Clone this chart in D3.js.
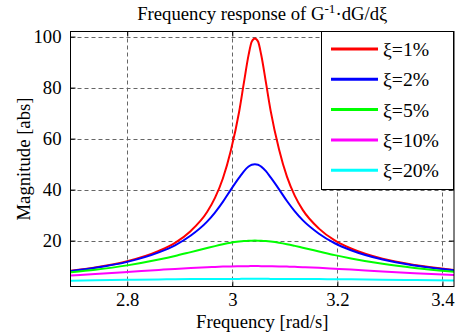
<!DOCTYPE html>
<html>
<head>
<meta charset="utf-8">
<script src="https://cdn.jsdelivr.net/npm/d3@7"></script>
<style>
  html, body { margin: 0; padding: 0; background: #fff; }
  svg { display: block; }
  text { font-family: "Liberation Serif", "Times New Roman", serif; fill: #000; }
</style>
</head>
<body>
<svg id="chart" width="455" height="332"></svg>
<script>
// Frequency samples (rad/s) around the natural frequency
const frequency = [2.693, 2.739, 2.800, 2.860, 2.891, 2.921, 2.952, 2.967, 2.982, 2.997,
  3.013, 3.022, 3.031, 3.037, 3.043, 3.049, 3.055, 3.064, 3.073, 3.089,
  3.104, 3.119, 3.134, 3.165, 3.195, 3.226, 3.286, 3.347, 3.423];

// |G^-1 dG/dxi| for each damping ratio
const xi1 = [8.14, 9.43, 11.89, 15.94, 19.13, 23.79, 31.19, 36.73, 44.36, 55.18,
  70.53, 81.83, 92.82, 98.05, 99.3, 98.06, 92.87, 82.02, 70.88, 55.76,
  45.07, 37.53, 32.04, 24.70, 20.07, 16.91, 12.87, 10.42, 8.44];
const xi2 = [8.06, 9.31, 11.65, 15.37, 18.16, 21.99, 27.44, 30.99, 35.18, 39.89,
  44.68, 47.17, 49.03, 49.75, 49.9, 49.75, 49.03, 47.21, 44.77, 40.11,
  35.53, 31.47, 28.02, 22.71, 18.96, 16.22, 12.56, 10.25, 8.35];
const xi5 = [7.56, 8.56, 10.28, 12.57, 13.96, 15.49, 17.08, 17.84, 18.54, 19.15,
  19.61, 19.81, 19.94, 19.98, 20.0, 19.98, 19.94, 19.81, 19.62, 19.17,
  18.60, 17.93, 17.22, 15.74, 14.31, 13.02, 10.89, 9.28, 7.80];
const xi10 = [6.33, 6.88, 7.68, 8.50, 8.90, 9.26, 9.57, 9.69, 9.80, 9.89,
  9.95, 9.98, 9.99, 10.0, 10.0, 10.0, 9.99, 9.98, 9.95, 9.89,
  9.81, 9.71, 9.59, 9.31, 8.99, 8.64, 7.92, 7.23, 6.46];
const xi20 = [4.26, 4.42, 4.61, 4.78, 4.84, 4.90, 4.94, 4.96, 4.98, 4.99,
  4.99, 5.0, 5.0, 5.0, 5.0, 5.0, 5.0, 5.0, 4.99, 4.99,
  4.98, 4.96, 4.95, 4.91, 4.86, 4.80, 4.67, 4.51, 4.31];

const seriesNames = ["ξ=1%", "ξ=2%", "ξ=5%", "ξ=10%", "ξ=20%"];
const seriesColors = ["#ff0000", "#0000ff", "#00ff00", "#ff00ff", "#00ffff"];
const seriesValues = [xi1, xi2, xi5, xi10, xi20];

const xTicks = [2.8, 3.0, 3.2, 3.4];
const xTickLabels = ["2.8", "3", "3.2", "3.4"];
const yTicks = [20, 40, 60, 80, 100];
const yTickLabels = ["20", "40", "60", "80", "100"];

const svg = d3.select("#chart");
const plotL = 70.5, plotR = 454, plotT = 31.5, plotB = 286.5;
const FS = 18.7;

const x = d3.scaleLinear().domain([2.692, 3.422]).range([plotL, plotR]);
const y = d3.scaleLinear().domain([2, 102]).range([plotB, plotT]);

svg.append("defs").append("clipPath").attr("id", "plotClip")
  .append("rect").attr("x", plotL).attr("y", plotT)
  .attr("width", plotR - plotL).attr("height", plotB - plotT);

// dashed grid
const grid = svg.append("g").attr("stroke", "#666").attr("stroke-width", 1)
  .attr("stroke-dasharray", "4,3");
grid.selectAll("line.gx").data(xTicks).join("line").attr("class", "gx")
  .attr("x1", d => Math.round(x(d)) + 0.5).attr("x2", d => Math.round(x(d)) + 0.5)
  .attr("y1", plotT).attr("y2", plotB);
grid.selectAll("line.gy").data(yTicks).join("line").attr("class", "gy")
  .attr("y1", d => Math.round(y(d)) + 0.5).attr("y2", d => Math.round(y(d)) + 0.5)
  .attr("x1", plotL).attr("x2", plotR);

// curves
const line = d3.line()
  .x((d, i) => x(frequency[i]))
  .y(d => y(d))
  .curve(d3.curveMonotoneX);
const curves = svg.append("g").attr("clip-path", "url(#plotClip)");
seriesValues.forEach((vals, k) => {
  curves.append("path").datum(vals)
    .attr("d", line)
    .attr("fill", "none")
    .attr("stroke", seriesColors[k])
    .attr("stroke-width", 2)
    .attr("stroke-linejoin", "round");
});

// axes: bottom/left with labels, top/right tick marks only
const tickLen = 5;
const xAxisB = d3.axisBottom(x).tickValues(xTicks).tickFormat((d, i) => xTickLabels[i])
  .tickSizeInner(-tickLen).tickSizeOuter(0).tickPadding(6);
const xAxisT = d3.axisTop(x).tickValues(xTicks).tickFormat("")
  .tickSizeInner(-tickLen).tickSizeOuter(0);
const yAxisL = d3.axisLeft(y).tickValues(yTicks).tickFormat((d, i) => yTickLabels[i])
  .tickSizeInner(-tickLen).tickSizeOuter(0).tickPadding(9);
const yAxisR = d3.axisRight(y).tickValues(yTicks).tickFormat("")
  .tickSizeInner(-tickLen).tickSizeOuter(0);

function styleAxis(g) {
  g.select(".domain").remove();
  g.selectAll(".tick line").attr("stroke", "#000");
  g.selectAll(".tick text").attr("font-size", FS)
    .attr("font-family", "Liberation Serif, Times New Roman, serif").attr("fill", "#000");
}
svg.append("g").attr("transform", `translate(0,${plotB})`).call(xAxisB).call(styleAxis);
svg.append("g").attr("transform", `translate(0,${plotT})`).call(xAxisT).call(styleAxis);
svg.append("g").attr("transform", `translate(${plotL},0)`).call(yAxisL).call(styleAxis);
svg.append("g").attr("transform", `translate(${plotR},0)`).call(yAxisR).call(styleAxis);

// frame
svg.append("rect").attr("x", plotL).attr("y", plotT)
  .attr("width", plotR - plotL).attr("height", plotB - plotT)
  .attr("fill", "none").attr("stroke", "#000").attr("stroke-width", 1);

// legend
const lg = { x: 321.5, y: 31.5, w: 132, h: 158 };
svg.append("rect").attr("x", lg.x).attr("y", lg.y).attr("width", lg.w).attr("height", lg.h)
  .attr("fill", "#fff").attr("stroke", "#000").attr("stroke-width", 1);
const rows = svg.append("g").selectAll("g").data(seriesNames).join("g")
  .attr("transform", (d, i) => `translate(0,${49 + i * 30.3})`);
rows.append("line").attr("x1", 331).attr("x2", 378).attr("y1", 0).attr("y2", 0)
  .attr("stroke", (d, i) => seriesColors[i]).attr("stroke-width", 3);
rows.append("text").attr("x", 383).attr("y", 0).attr("dy", "0.35em")
  .attr("font-size", FS + 1).text(d => d);

// title and axis labels
const title = svg.append("text").attr("x", (plotL + plotR) / 2).attr("y", 20)
  .attr("text-anchor", "middle").attr("font-size", FS);
title.append("tspan").text("Frequency response of G");
title.append("tspan").attr("font-size", FS * 0.7).attr("dy", -7).text("-1");
title.append("tspan").attr("dy", 7).text("·dG/dξ");

svg.append("text").attr("x", (plotL + plotR) / 2).attr("y", 327.5)
  .attr("text-anchor", "middle").attr("font-size", FS).text("Frequency [rad/s]");
svg.append("text").attr("transform", `translate(30,${(plotT + plotB) / 2}) rotate(-90)`)
  .attr("text-anchor", "middle").attr("font-size", FS).text("Magnitude [abs]");
</script>
</body>
</html>
